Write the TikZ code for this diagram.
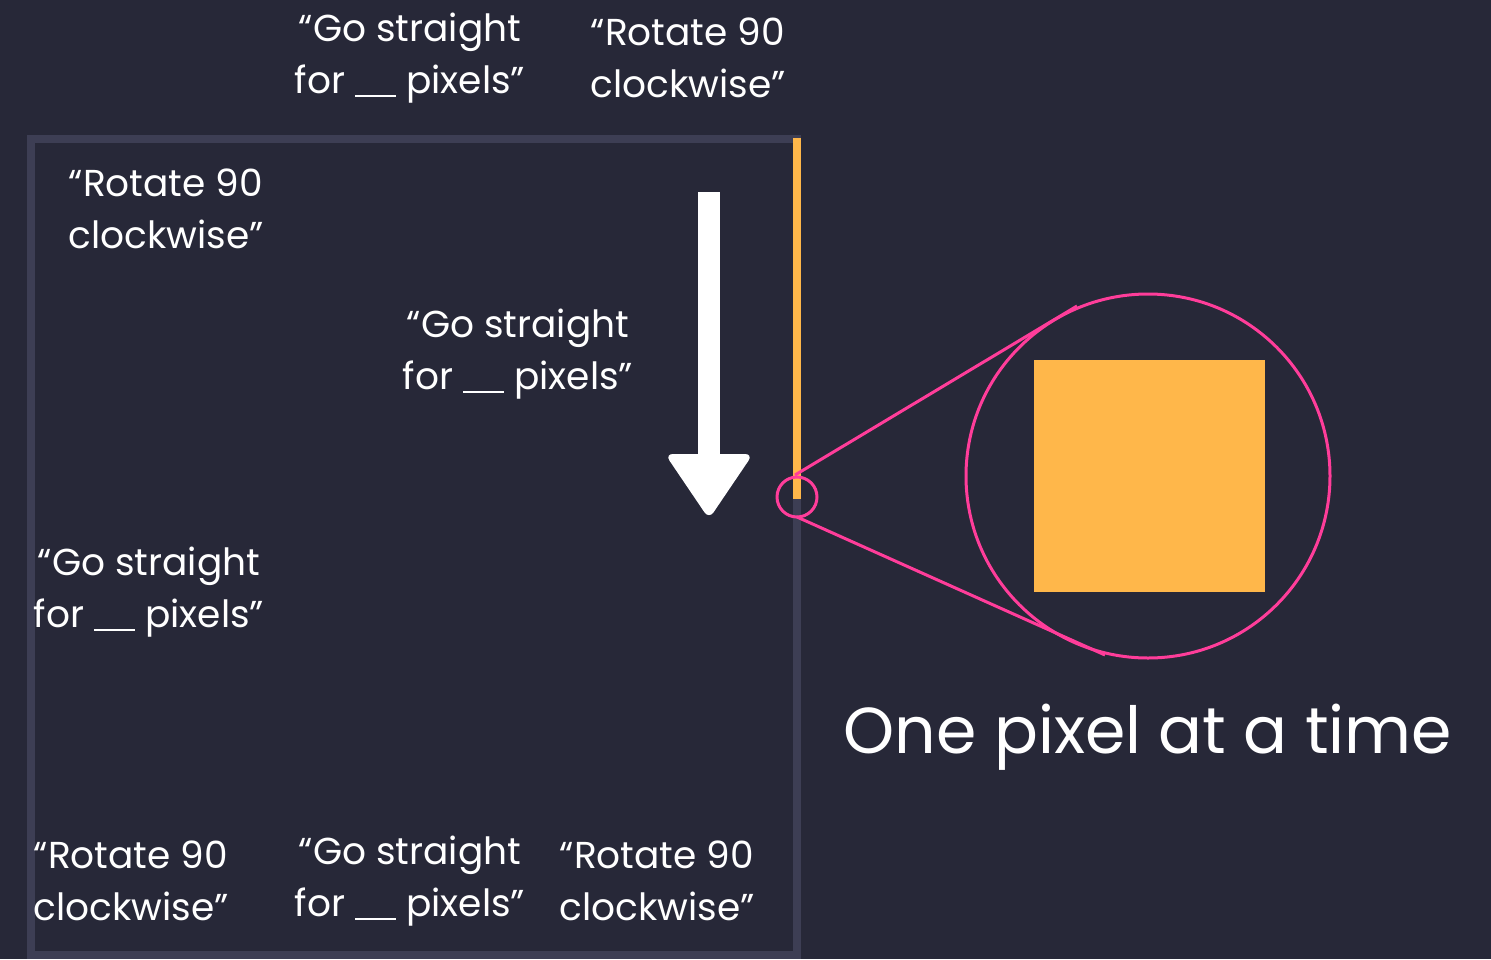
\documentclass[tikz,border=0pt]{standalone}
\usepackage{fontspec}
\setmainfont{Poppins}
\definecolor{bgc}{HTML}{272838}
\definecolor{framec}{HTML}{3D3E54}
\definecolor{orangec}{HTML}{FFB74A}
\definecolor{pinkc}{HTML}{FF3D9A}
\newcommand{\blank}{\rule[-0.1em]{1.1em}{0.065em}}
\begin{document}
\begin{tikzpicture}[x=1pt,y=-1pt,
  lbl/.style={text=white,align=center,font=\fontsize{37.5}{52}\selectfont,inner sep=0pt},
  big/.style={text=white,font=\fontsize{65}{75}\selectfont,inner sep=0pt},
  pinkline/.style={draw=pinkc,line width=3pt}]
\fill[bgc] (0,0) rectangle (1491,959);
\useasboundingbox (0,0) rectangle (1491,959);
% frame
\draw[framec,line width=8pt] (31,139) rectangle (797,955);
% orange line
\draw[orangec,line width=8pt] (797,138) -- (797,499);
% arrow
\fill[white] (698,192) rectangle (720,460);
\fill[white,rounded corners=8pt] (665,454) -- (753,454) -- (709,519) -- cycle;
% zoom circles
\node[circle,pinkline,minimum size=40pt,inner sep=0pt] (small) at (797,497) {};
\node[circle,pinkline,minimum size=364pt,inner sep=0pt] (bigc) at (1148,476) {};
\node[fill=orangec,minimum width=231pt,minimum height=232pt,inner sep=0pt] (px) at (1149.5,476) {};
\coordinate (t1) at (1077,306);
\coordinate (t2) at (1105,655);
\coordinate (s1) at (795,475);
\coordinate (s2) at (797,517);
\draw[pinkline] (s1) -- (t1);
\draw[pinkline] (s2) -- (t2);
% labels
\node[lbl] (g1) at (410,58) {“Go straight\\for \blank{} pixels”};
\node[lbl] (r1) at (688,58) {“Rotate 90\\clockwise”};
\node[lbl] (r2) at (166,209) {“Rotate 90\\clockwise”};
\node[lbl] (g2) at (518,354) {“Go straight\\for \blank{} pixels”};
\node[lbl] (g3) at (149,592) {“Go straight\\for \blank{} pixels”};
\node[lbl] (r3) at (131,881) {“Rotate 90\\clockwise”};
\node[lbl] (g4) at (410,881) {“Go straight\\for \blank{} pixels”};
\node[lbl] (r4) at (657,881) {“Rotate 90\\clockwise”};
\node[big] (one) at (1148,737) {One pixel at a time};
\end{tikzpicture}
\end{document}
